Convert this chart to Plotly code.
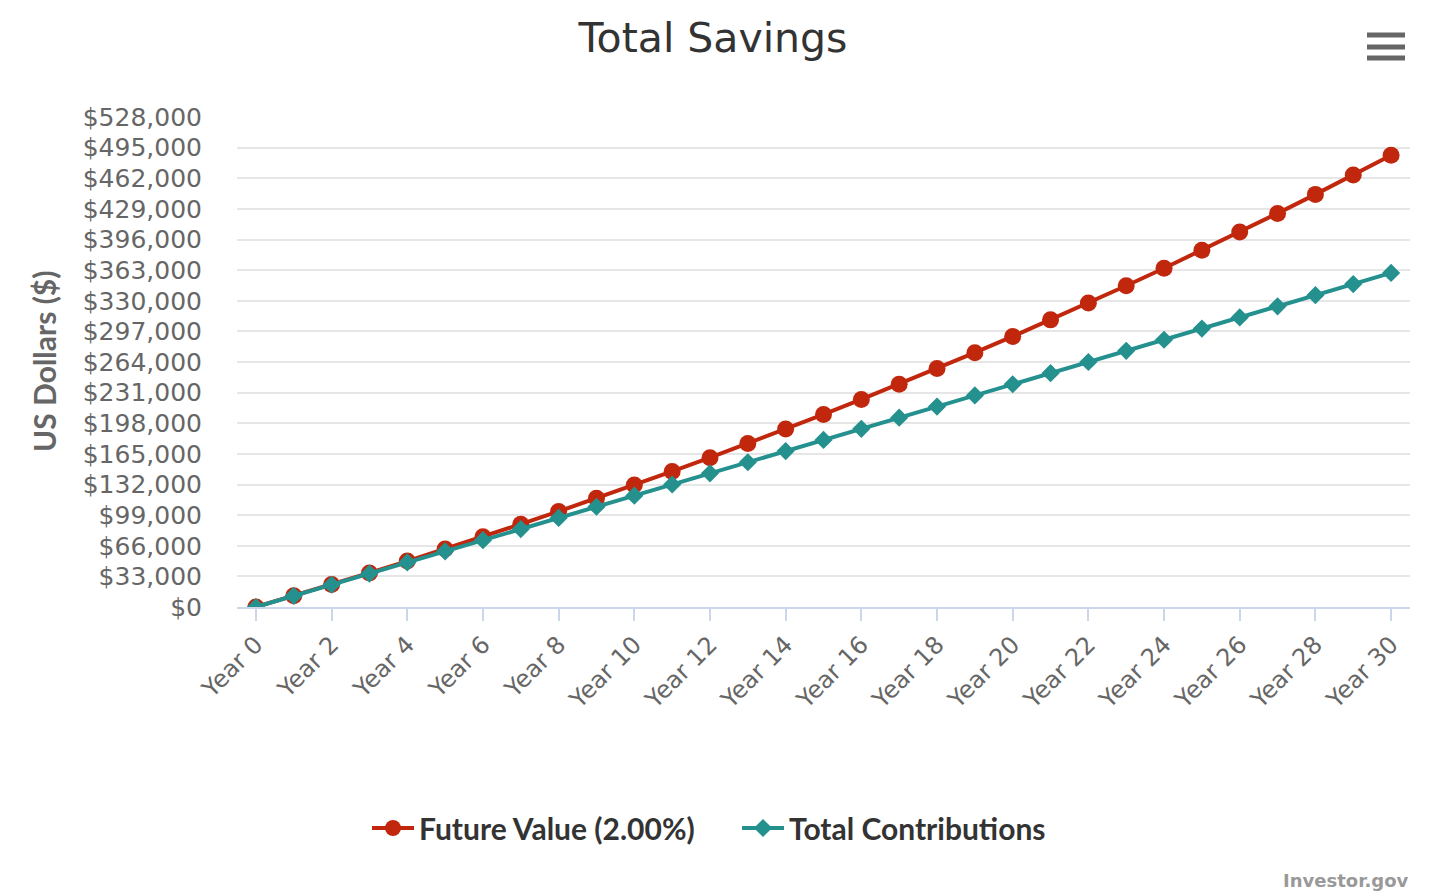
import plotly.graph_objects as go

years = list(range(0, 31))
year_labels = [f"Year {y}" for y in years]
future_value = [0, 12000, 24240, 36725, 49459, 62448, 75697, 89211, 102996, 117056,
                131397, 146025, 160945, 176164, 191687, 207521, 223671, 240145, 256948,
                274087, 291568, 309400, 327588, 346140, 365062, 384364, 404051, 424132,
                444615, 465507, 486817]
total_contrib = [0, 12000, 24000, 36000, 48000, 60000, 72000, 84000, 96000, 108000,
                 120000, 132000, 144000, 156000, 168000, 180000, 192000, 204000, 216000,
                 228000, 240000, 252000, 264000, 276000, 288000, 300000, 312000, 324000,
                 336000, 348000, 360000]
y_ticks = list(range(0, 528001, 33000))
y_tick_text = [f"${v:,}" for v in y_ticks]
x_tick_vals = years[::2]
x_tick_text = year_labels[::2]

RED = "#c1270d"
TEAL = "#24918f"

fig = go.Figure()
fig.add_trace(go.Scatter(
    x=years, y=future_value, name="Future Value (2.00%)", mode="lines+markers",
    line=dict(color=RED, width=4), marker=dict(symbol="circle", size=17, color=RED),
))
fig.add_trace(go.Scatter(
    x=years, y=total_contrib, name="Total Contributions", mode="lines+markers",
    line=dict(color=TEAL, width=4), marker=dict(symbol="diamond", size=14, color=TEAL),
))

OFF = 8  # page body margin
W, H = 1432 - OFF, 895 - OFF
L, T = 237 - OFF, 117 - OFF
R = W - (1410 - OFF)
B = H - (607 - OFF)
pw = W - L - R
ph = H - T - B

def px_to_paper_x(px):
    return (px - OFF - L) / pw

def px_to_paper_y(py):
    return (H - B - (py - OFF)) / ph

shapes = []
for cy in (35, 47, 58):
    shapes.append(dict(type="rect", xref="paper", yref="paper",
                       x0=px_to_paper_x(1367), x1=px_to_paper_x(1405),
                       y0=px_to_paper_y(cy + 2.5), y1=px_to_paper_y(cy - 2.5),
                       fillcolor="#666666", line=dict(width=0)))

fig.update_layout(
    width=W, height=H,
    margin=dict(l=L, r=R, t=T, b=B, autoexpand=False),
    paper_bgcolor="white", plot_bgcolor="white",
    title=dict(text="Total Savings", x=(713 - OFF) / W, xanchor="center", xref="container",
               y=1 - (38 - OFF) / H, yanchor="middle", yref="container",
               font=dict(family="DejaVu Sans", size=41, color="#333333")),
    xaxis=dict(range=[-0.5, 30.5], tickmode="array", tickvals=x_tick_vals, ticktext=x_tick_text,
               tickangle=-45, showgrid=False, showline=True, linecolor="#ccd6eb", linewidth=2,
               ticks="outside", ticklen=12, tickcolor="#ccd6eb", tickwidth=2,
               tickfont=dict(family="DejaVu Sans", size=24, color="#666666"), zeroline=False),
    yaxis=dict(range=[0, 528000], tickmode="array", tickvals=y_ticks, ticktext=y_tick_text,
               showgrid=True, gridcolor="#e6e6e6", gridwidth=2, zeroline=False,
               ticklabelstandoff=34,
               tickfont=dict(family="DejaVu Sans", size=25, color="#666666")),
    legend=dict(orientation="h", x=(367 - OFF) / W, xanchor="left", xref="container",
                y=px_to_paper_y(828), yanchor="middle", entrywidth=313, itemwidth=42,
                font=dict(family="Lato", size=30, color="#333333", weight="bold")),
    shapes=shapes,
    annotations=[
        dict(text="US Dollars ($)", xref="paper", yref="paper", x=px_to_paper_x(44),
             y=px_to_paper_y(361), textangle=-90, showarrow=False, xanchor="center",
             yanchor="middle", font=dict(family="Lato", size=30, color="#666666", weight="bold")),
        dict(text="<b>Investor.gov</b>", xref="paper", yref="paper", x=px_to_paper_x(1411),
             y=px_to_paper_y(880), showarrow=False, xanchor="right", yanchor="middle",
             font=dict(family="DejaVu Sans", size=18, color="#999999")),
    ],
    showlegend=True,
)

fig.write_html("out.html")
